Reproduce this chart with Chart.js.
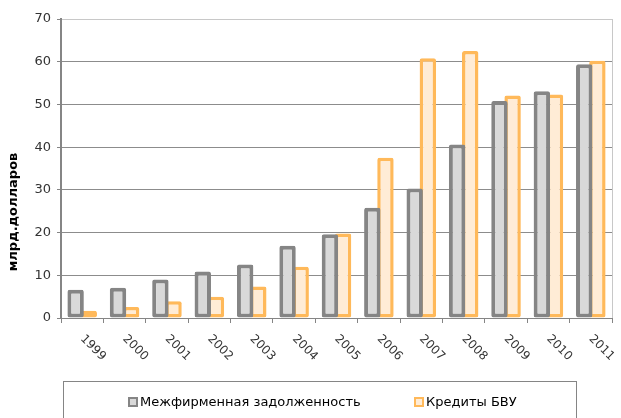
<!DOCTYPE html>
<html>
<head>
<meta charset="utf-8">
<script src="https://cdn.jsdelivr.net/npm/chart.js@4"></script>
<style>
  html, body { margin: 0; padding: 0; background: #fff; }
  #wrap { width: 621px; height: 418px; }
</style>
</head>
<body>
<div id="wrap"><canvas id="debtChart"></canvas></div>
<script>
// Data.
var years = ['1999', '2000', '2001', '2002', '2003', '2004', '2005', '2006', '2007', '2008', '2009', '2010', '2011'];
var interFirmDebt = [6.6, 7.1, 9.0, 10.9, 12.5, 16.9, 19.6, 25.8, 30.3, 40.6, 50.8, 53.1, 59.4];
var bankLoans = [1.7, 2.6, 3.9, 5.0, 7.4, 12.0, 19.8, 37.5, 60.8, 62.5, 52.1, 52.3, 60.2];
var seriesNames = ['Межфирменная задолженность', 'Кредиты БВУ'];
var yTicks = [0, 10, 20, 30, 40, 50, 60, 70];
var yTitle = 'млрд.долларов';

var gray = '#858585';
var grayFill = '#d9d9d9';
var orange = '#ffb95a';
var orangeFill = '#ffecd6';

////////////////////////////////////////////////////////////////////////////////
// Extra drawing: plot border, rotated year labels, axis title, boxed legend.

var decorations = {
    id: 'decorations',
    beforeDatasetsDraw: function (chart) {
        var ctx = chart.ctx, a = chart.chartArea;
        ctx.save();
        ctx.strokeStyle = '#c8c8c8';
        ctx.lineWidth = 1;
        ctx.beginPath();
        ctx.moveTo(Math.round(a.right) + 0.5, a.top);
        ctx.lineTo(Math.round(a.right) + 0.5, a.bottom);
        ctx.stroke();
        ctx.restore();
    },
    afterDraw: function (chart) {
        var ctx = chart.ctx, xs = chart.scales.x;
        ctx.save();
        ctx.fillStyle = '#333';

        // Year labels, turned 45 degrees clockwise.
        ctx.font = '12px "DejaVu Sans"';
        ctx.textAlign = 'left';
        ctx.textBaseline = 'middle';
        years.forEach(function (y, i) {
            ctx.save();
            ctx.translate(xs.getPixelForValue(i), 337);
            ctx.rotate(Math.PI / 4);
            ctx.fillText(y, 0, 0);
            ctx.restore();
        });

        // Y axis title.
        ctx.save();
        ctx.font = 'bold 13px "DejaVu Sans"';
        ctx.fillStyle = '#000';
        ctx.textAlign = 'center';
        ctx.translate(14, 212);
        ctx.rotate(-Math.PI / 2);
        ctx.fillText(yTitle, 0, 0);
        ctx.restore();

        // Legend box and items.
        ctx.strokeStyle = gray;
        ctx.lineWidth = 1;
        ctx.strokeRect(63.5, 381.5, 513, 60);
        ctx.font = '13px "DejaVu Sans"';
        var itemX = [129, 415];
        chart.data.datasets.forEach(function (ds, i) {
            ctx.fillStyle = ds.backgroundColor;
            ctx.strokeStyle = ds.borderColor;
            ctx.lineWidth = 2;
            ctx.fillRect(itemX[i], 398, 8, 8);
            ctx.strokeRect(itemX[i], 398, 8, 8);
            ctx.fillStyle = '#000';
            ctx.fillText(ds.label, itemX[i] + 11, 403);
        });
        ctx.restore();
    }
};

var ctx = document.getElementById('debtChart').getContext('2d');
var myChart = new Chart(ctx, {
    type: 'bar',
    plugins: [decorations],
    data: {
        labels: years,
        datasets: [{
            label: seriesNames[0],
            data: interFirmDebt,
            backgroundColor: grayFill,
            borderColor: gray,
            borderWidth: 4,
            borderRadius: 2,
            borderSkipped: false
        },
        {
            label: seriesNames[1],
            data: bankLoans,
            backgroundColor: orangeFill,
            borderColor: orange,
            borderWidth: 3.5,
            borderRadius: 2,
            borderSkipped: false
        }]
    },
    options: {
        responsive: true,
        maintainAspectRatio: false,
        animation: false,
        categoryPercentage: 0.62,
        barPercentage: 1.25,
        layout: {
            padding: { left: 0, right: 9, top: 19, bottom: 0 }
        },
        plugins: {
            legend: { display: false },
            tooltip: { enabled: false }
        },
        scales: {
            x: {
                ticks: { display: false },
                grid: {
                    display: true,
                    drawOnChartArea: false,
                    offset: true,
                    tickLength: 5,
                    color: gray
                },
                border: { color: gray, width: 1 },
                afterFit: function (s) { s.height = 100; }
            },
            y: {
                min: 0,
                max: 70,
                afterBuildTicks: function (s) {
                    s.ticks = yTicks.map(function (v) { return { value: v }; });
                },
                ticks: {
                    padding: 6,
                    color: '#333',
                    font: { family: 'DejaVu Sans', size: 13 }
                },
                grid: {
                    tickLength: 4,
                    tickColor: gray,
                    color: function (c) { return c.tick && c.tick.value === 70 ? '#c8c8c8' : '#8c8c8c'; }
                },
                border: { color: gray, width: 2 },
                afterFit: function (s) { s.width = 61; }
            }
        }
    }
});
</script>
</body>
</html>
